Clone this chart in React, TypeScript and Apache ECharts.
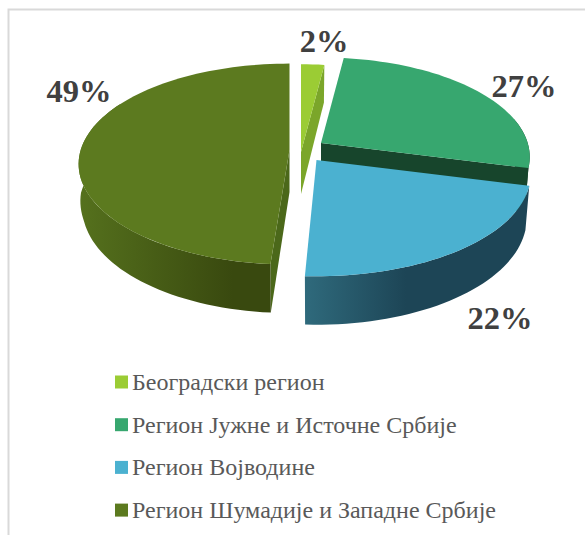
import React, { useEffect, useRef } from "react";
import * as echarts from "echarts";

const categories = [
  "Београдски регион",
  "Регион Јужне и Источне Србије",
  "Регион Војводине",
  "Регион Шумадије и Западне Србије",
];
const values = [2, 27, 22, 49];
const topColors = ["#9bcc34", "#37a76f", "#4bb1d0", "#5c7a1f"];
const faceColors = ["#7ba62a", "#17452c", "#1f4757", "#4b681a"];
const wallLeft = ["#7ba62a", "#17452c", "#2f6a7c", "#55711d"];
const wallRight = ["#7ba62a", "#17452c", "#1d4556", "#39490f"];
const apexX = [301, 321, 316.5, 289.5];
const apexY = [152, 143, 160, 150];
const sliceScale = [1, 0.975, 1, 0.985];
const startNudge = [0, 0, 0, 0.9];
const endNudge = [0, 0, -0.9, 0];
const labelX = [324, 524, 500, 79];
const labelY = [41, 86, 318, 91];

const R = 212;
const RY = 100;
const K = 0.14;

function project(ax: number, ay: number, deg: number, bottom: boolean, scale: number): number[] {
  const t = (deg * Math.PI) / 180;
  const u = Math.sin(t);
  const v = -Math.cos(t);
  const s = scale / (1 - K * v);
  if (!bottom) return [ax + R * u * s, ay + RY * v * s];
  const leftPull = u < 0 ? 3.5 * Math.min(1, Math.max(0, (0.26 - v) / 0.26)) : 0;
  return [ax + R * 0.982 * u * s - leftPull, ay + RY * v * s + 43 + 5.5 * v];
}

function arcPoints(ax: number, ay: number, a0: number, a1: number, bottom: boolean, scale: number) {
  const n = Math.max(2, Math.ceil(Math.abs(a1 - a0) / 2));
  const pts: number[][] = [];
  for (let i = 0; i <= n; i++) pts.push(project(ax, ay, a0 + ((a1 - a0) * i) / n, bottom, scale));
  return pts;
}

function makeRender(index: number) {
  return (_params: any, api: any) => {
    const total = values.reduce((a, b) => a + b, 0);
    const before = values.slice(0, index).reduce((a, b) => a + b, 0);
    const value = api.value(0);
    const a0 = (before / total) * 360 + startNudge[index];
    const a1 = ((before + value) / total) * 360 + endNudge[index];
    const ax = apexX[index];
    const ay = apexY[index];
    const scale = sliceScale[index];
    const apexBottom = [ax, ay + 42];
    const children: any[] = [];
    const face = (a: number) => {
      const pt = project(ax, ay, a, false, scale);
      const pb = project(ax, ay, a, true, scale);
      children.push({
        type: "polygon",
        shape: { points: [[ax, ay], pt, pb, apexBottom] },
        style: { fill: faceColors[index] },
      });
    };
    // radial faces that look towards the viewer
    if (index === 0 || index === 1) face(a1);
    if (index === 3) face(a0);
    // curved outer wall: the near half, a little extended so that it meets the silhouette
    const w0 = Math.max(a0, 75);
    const w1 = Math.min(a1, 300);
    if (w1 > w0) {
      const top = arcPoints(ax, ay, w0, w1, false, scale);
      const bot = arcPoints(ax, ay, w1, w0, true, scale);
      children.push({
        type: "polygon",
        shape: { points: top.concat(bot) },
        style: {
          fill: new echarts.graphic.LinearGradient(
            index === 2 ? 0 : 1,
            0,
            index === 2 ? 1 : 0,
            0,
            index === 2
              ? [
                  { offset: 0, color: wallLeft[index] },
                  { offset: 0.45, color: wallRight[index] },
                  { offset: 1, color: wallRight[index] },
                ]
              : [
                  { offset: 0, color: wallRight[index] },
                  { offset: 0.2, color: wallRight[index] },
                  { offset: 1, color: wallLeft[index] },
                ]
          ),
        },
      });
    }
    children.push({
      type: "polygon",
      shape: { points: [[ax, ay] as number[]].concat(arcPoints(ax, ay, a0, a1, false, scale)) },
      style: { fill: topColors[index] },
    });
    children.push({
      type: "text",
      x: labelX[index],
      y: labelY[index],
      style: {
        text: `${value}%`,
        fontFamily: "Liberation Serif",
        fontWeight: "bold",
        fontSize: 32.5,
        fill: "#404040",
        align: "center",
        verticalAlign: "middle",
      },
    });
    return { type: "group", children };
  };
}

export default function App() {
  const ref = useRef<HTMLDivElement>(null);
  useEffect(() => {
    const chart = echarts.init(ref.current!, null, { renderer: "svg" });
    chart.setOption({
      animation: false,
      backgroundColor: "#ffffff",
      legend: {
        orient: "vertical",
        left: 110,
        top: 365,
        icon: "rect",
        itemWidth: 13,
        itemHeight: 13,
        itemGap: 18.7,
        selectedMode: false,
        data: categories,
        textStyle: {
          fontFamily: "Liberation Serif",
          fontSize: 24,
          color: "#595959",
          padding: [0, 0, 0, -1],
        },
      },
      graphic: [
        {
          type: "polyline",
          shape: { points: [[8.5, 535], [8.5, 9.5], [585, 9.5]] },
          style: { stroke: "#d9d9d9", fill: "none", lineWidth: 2 },
        },
      ],
      series: categories.map((name, i) => ({
        type: "custom",
        name,
        coordinateSystem: "none",
        itemStyle: { color: topColors[i] },
        data: [[values[i]]],
        renderItem: makeRender(i),
      })),
    });
    return () => chart.dispose();
  }, []);
  return <div ref={ref} style={{ position: "fixed", left: 0, top: 0, width: 585, height: 535 }} />;
}
